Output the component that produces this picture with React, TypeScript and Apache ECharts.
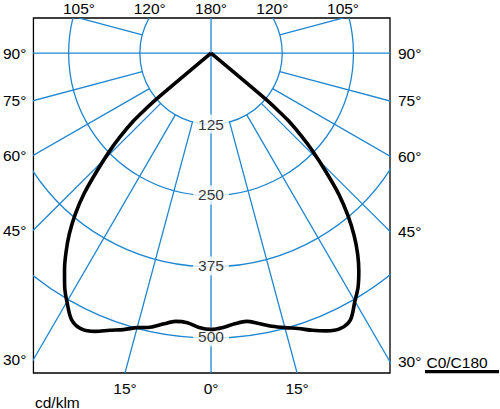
import React, { useEffect, useRef } from "react";
import * as echarts from "echarts";

// Luminous intensity (cd/klm) read at gamma angles (degrees from nadir)
const GAMMA = [0, 2.5, 5, 7.5, 10, 12.5, 15, 17.5, 20, 22.5, 25, 27.5, 30, 32, 34, 36, 38, 40, 42, 44, 46, 47.3, 48.7, 49.3, 49.8];
const C0 = [487, 484, 479, 477, 484, 493, 501, 509, 520, 530, 536, 530, 505, 487, 464, 438, 408, 374, 336, 290, 247, 217, 182, 155, 125];
const C180 = [487, 484, 477, 477, 485, 495, 501, 511, 520, 531, 537, 530, 506, 485, 460, 433, 404, 371, 333, 288, 246, 217, 182, 155, 125];

// polar grid
const RADII = [125, 250, 375, 500];
const SPOKES = [-165, -150, -135, -120, -105, -90, -75, -60, -45, -30, -15, 0, 15, 30, 45, 60, 75, 90, 105, 120, 135, 150, 165, 180];
const FULL_SPOKES = [0, 90, -90, 180];

// edge tick labels (signed gamma: negative = left half)
const TOP_TICKS = [-105, -120, 180, 120, 105];
const SIDE_TICKS = [90, 75, 60, 45, 30];
const BOTTOM_TICKS = [-15, 0, 15];

const X_MIN = -311.8;
const X_MAX = 314.2;
const Y_MIN = -563.9;
const Y_MAX = 62.1;

const BLUE = "#1f86d0";
const FONT = "'Liberation Sans', Arial, Helvetica, sans-serif";
const FS = 15.5;

const rad = (g: number) => (g * Math.PI) / 180;

function topPos(g: number) {
  const t = Y_MAX / -Math.cos(rad(g));
  return t * Math.sin(rad(g));
}
function bottomPos(g: number) {
  const t = Y_MIN / -Math.cos(rad(g));
  return t * Math.sin(rad(g));
}
function sidePos(g: number, xEdge: number) {
  const gs = xEdge < 0 ? -g : g;
  const t = xEdge / Math.sin(rad(gs));
  return -t * Math.cos(rad(gs));
}

function makeTicks(list: { v: number; label: string }[]) {
  return {
    customValues: list.map((d) => d.v),
    formatter: (val: number) => {
      let best = list[0];
      for (const d of list) if (Math.abs(d.v - val) < Math.abs(best.v - val)) best = d;
      return best.label;
    },
  };
}

export default function App() {
  const ref = useRef<HTMLDivElement>(null);
  useEffect(() => {
    if (!ref.current) return;
    const chart = echarts.init(ref.current, null, { renderer: "svg" });

    const curve: number[][] = [[0, 0]];
    for (let i = GAMMA.length - 1; i >= 0; i--) {
      const g = rad(GAMMA[i]);
      curve.push([C0[i] * Math.sin(g), -C0[i] * Math.cos(g)]);
    }
    for (let i = 0; i < GAMMA.length; i++) {
      const g = rad(GAMMA[i]);
      curve.push([-C180[i] * Math.sin(g), -C180[i] * Math.cos(g)]);
    }
    curve.push([0, 0]);

    const topTicks = TOP_TICKS.map((g) => ({ v: topPos(g), label: `${Math.abs(g)}°` }));
    const bottomTicks = BOTTOM_TICKS.map((g) => ({ v: bottomPos(g), label: `${Math.abs(g)}°` }));
    const leftTicks = SIDE_TICKS.map((g) => ({ v: sidePos(g, X_MIN), label: `${g}°` }));
    const rightTicks = SIDE_TICKS.map((g) => ({ v: sidePos(g, X_MAX), label: `${g}°` }));

    const labelBase = { color: "#000", fontSize: FS, fontFamily: FONT };
    const hidden = { axisLine: { show: false }, axisTick: { show: false }, splitLine: { show: false } };

    const bt = makeTicks(bottomTicks);
    const tt = makeTicks(topTicks);
    const lt = makeTicks(leftTicks);
    const rt = makeTicks(rightTicks);

    chart.setOption({
      animation: false,
      grid: {
        left: 32,
        top: 15,
        width: 358,
        height: 358,
        show: true,
        borderColor: "#000",
        borderWidth: 1.3,
        backgroundColor: "transparent",
      },
      xAxis: [
        {
          type: "value",
          min: X_MIN,
          max: X_MAX,
          position: "bottom",
          ...hidden,
          axisLabel: { ...labelBase, margin: 7, customValues: bt.customValues, formatter: bt.formatter },
        },
        {
          type: "value",
          min: X_MIN,
          max: X_MAX,
          position: "top",
          ...hidden,
          axisLabel: { ...labelBase, margin: 2, customValues: tt.customValues, formatter: tt.formatter },
        },
      ],
      yAxis: [
        {
          type: "value",
          min: Y_MIN,
          max: Y_MAX,
          position: "left",
          ...hidden,
          axisLabel: { ...labelBase, margin: 7, customValues: lt.customValues, formatter: lt.formatter },
        },
        {
          type: "value",
          min: Y_MIN,
          max: Y_MAX,
          position: "right",
          ...hidden,
          axisLabel: { ...labelBase, margin: 8, customValues: rt.customValues, formatter: rt.formatter },
        },
      ],
      graphic: [
        {
          type: "text",
          x: 35,
          y: 402,
          style: {
            text: "cd/klm",
            fill: "#000",
            font: `${FS}px ${FONT}`,
            verticalAlign: "middle",
            textVerticalAlign: "middle",
          },
        },
        {
          type: "text",
          x: 426.5,
          y: 362,
          style: {
            text: "C0/C180",
            fill: "#000",
            font: `${FS}px ${FONT}`,
            verticalAlign: "middle",
            textVerticalAlign: "middle",
          },
        },
        {
          type: "rect",
          shape: { x: 425, y: 370, width: 74, height: 3.2 },
          style: { fill: "#000" },
        },
      ],
      series: [
        {
          type: "custom",
          name: "circles",
          clip: true,
          silent: true,
          z: 1,
          encode: { x: 0, y: 1 },
          data: RADII.map((r) => [0, 0, r]),
          renderItem: (_p: any, api: any) => {
            const c = api.coord([0, 0]);
            const r = api.size([api.value(2), 0])[0];
            return {
              type: "circle",
              shape: { cx: c[0], cy: c[1], r },
              style: { fill: "none", stroke: BLUE, lineWidth: 1.3 },
            };
          },
        },
        {
          type: "custom",
          name: "spokes",
          clip: true,
          silent: true,
          z: 1,
          encode: { x: 0, y: 1 },
          data: SPOKES.map((g) => [0, 0, g, FULL_SPOKES.includes(g) ? 0 : RADII[0]]),
          renderItem: (_p: any, api: any) => {
            const g = rad(api.value(2));
            const r0 = api.value(3);
            const p0 = api.coord([r0 * Math.sin(g), -r0 * Math.cos(g)]);
            const p1 = api.coord([2000 * Math.sin(g), -2000 * Math.cos(g)]);
            return {
              type: "line",
              shape: { x1: p0[0], y1: p0[1], x2: p1[0], y2: p1[1] },
              style: { stroke: BLUE, lineWidth: 1.3 },
            };
          },
        },
        {
          type: "scatter",
          name: "scale",
          z: 3,
          silent: true,
          symbolSize: 1,
          itemStyle: { color: "rgba(0,0,0,0)" },
          data: RADII.map((r) => ({ name: String(r), value: [0, -r] })),
          label: {
            show: true,
            position: "inside",
            formatter: "{b}",
            ...labelBase,
            backgroundColor: "#fff",
            padding: [2, 5, 1, 5],
          },
        },
        {
          type: "line",
          name: "C0/C180",
          z: 5,
          data: curve,
          showSymbol: false,
          symbol: "none",
          smooth: 0.3,
          clip: false,
          lineStyle: { color: "#000", width: 3.6 },
        },
      ],
    });
    return () => chart.dispose();
  }, []);

  return (
    <div
      ref={ref}
      style={{ position: "absolute", left: 0, top: 0, width: 500, height: 409, background: "#fff" }}
    />
  );
}
